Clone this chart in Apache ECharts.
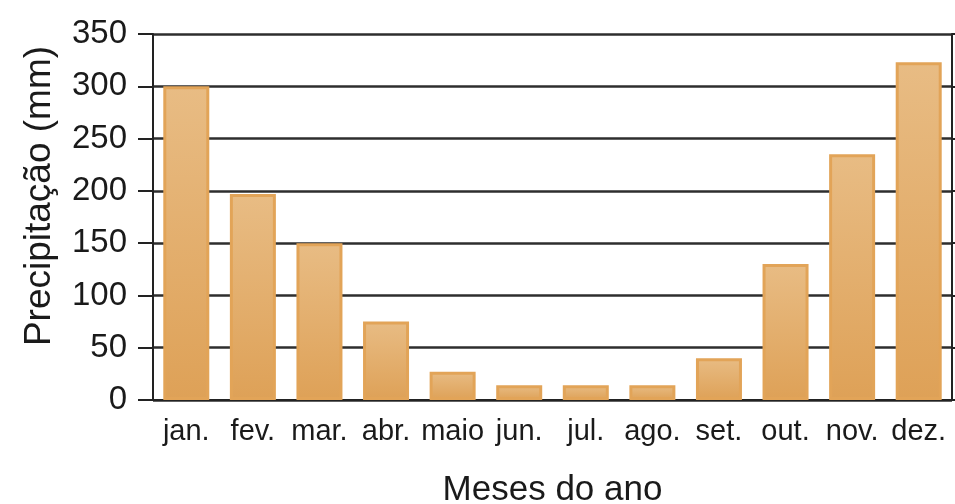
<!DOCTYPE html>
<html>
<head>
<meta charset="utf-8">
<script src="https://cdn.jsdelivr.net/npm/echarts@6/dist/echarts.min.js"></script>
<style>
html,body{margin:0;padding:0;background:#fff;}
#c{width:955px;height:504px;}
</style>
</head>
<body>
<div id="c"></div>
<script>
const categories = ['jan.', 'fev.', 'mar.', 'abr.', 'maio', 'jun.', 'jul.', 'ago.', 'set.', 'out.', 'nov.', 'dez.'];
const precipitation = [300, 197, 150, 75, 27, 14, 14, 14, 40, 130, 235, 323];
const yTicks = [0, 50, 100, 150, 200, 250, 300, 350];
const yTitle = 'Precipitação (mm)';
const xTitle = 'Meses do ano';

const chart = echarts.init(document.getElementById('c'), null, {renderer: 'canvas'});
const font = 'Liberation Sans, Arial, Helvetica, sans-serif';
const yMin = yTicks[0], yMax = yTicks[yTicks.length - 1], yStep = yTicks[1] - yTicks[0];
chart.setOption({
  animation: false,
  backgroundColor: '#ffffff',
  grid: {left: 153, right: 3, top: 34, bottom: 104, containLabel: false, outerBoundsMode: 'none'},
  graphic: [{
    type: 'text',
    x: 40,
    y: 196,
    rotation: Math.PI / 2,
    style: {
      text: yTitle,
      fill: '#1a1a1a',
      font: '37px Liberation Sans, Arial, sans-serif',
      textAlign: 'center',
      textVerticalAlign: 'middle'
    }
  }],
  xAxis: {
    type: 'category',
    data: categories,
    boundaryGap: true,
    axisLine: {show: true, lineStyle: {color: '#222', width: 2}},
    axisTick: {show: false},
    axisLabel: {color: '#1a1a1a', fontFamily: font, fontSize: 29, margin: 17, interval: 0},
    name: xTitle,
    nameLocation: 'middle',
    nameGap: 73,
    nameTextStyle: {color: '#1a1a1a', fontFamily: font, fontSize: 35}
  },
  yAxis: [{
    type: 'value',
    min: yMin, max: yMax, interval: yStep,
    axisLine: {show: true, lineStyle: {color: '#222', width: 2}},
    axisTick: {show: true, inside: false, length: 15, lineStyle: {color: '#222', width: 2}},
    axisLabel: {color: '#1a1a1a', fontFamily: font, fontSize: 33, margin: 26},
    splitLine: {show: true, lineStyle: {color: '#2e2e2e', width: 2.5}}
  }, {
    type: 'value',
    position: 'right',
    min: yMin, max: yMax, interval: yStep,
    axisLine: {show: true, lineStyle: {color: '#222', width: 2}},
    axisTick: {show: true, inside: false, length: 3, lineStyle: {color: '#222', width: 2}},
    axisLabel: {show: false},
    splitLine: {show: false}
  }],
  series: [{
    type: 'bar',
    data: precipitation,
    barWidth: 46,
    itemStyle: {
      color: new echarts.graphic.LinearGradient(0, 0, 0, 1, [
        {offset: 0, color: '#E8BC84'},
        {offset: 1, color: '#DEA157'}
      ]),
      borderColor: '#E2A458',
      borderWidth: 3
    }
  }]
});
</script>
</body>
</html>
